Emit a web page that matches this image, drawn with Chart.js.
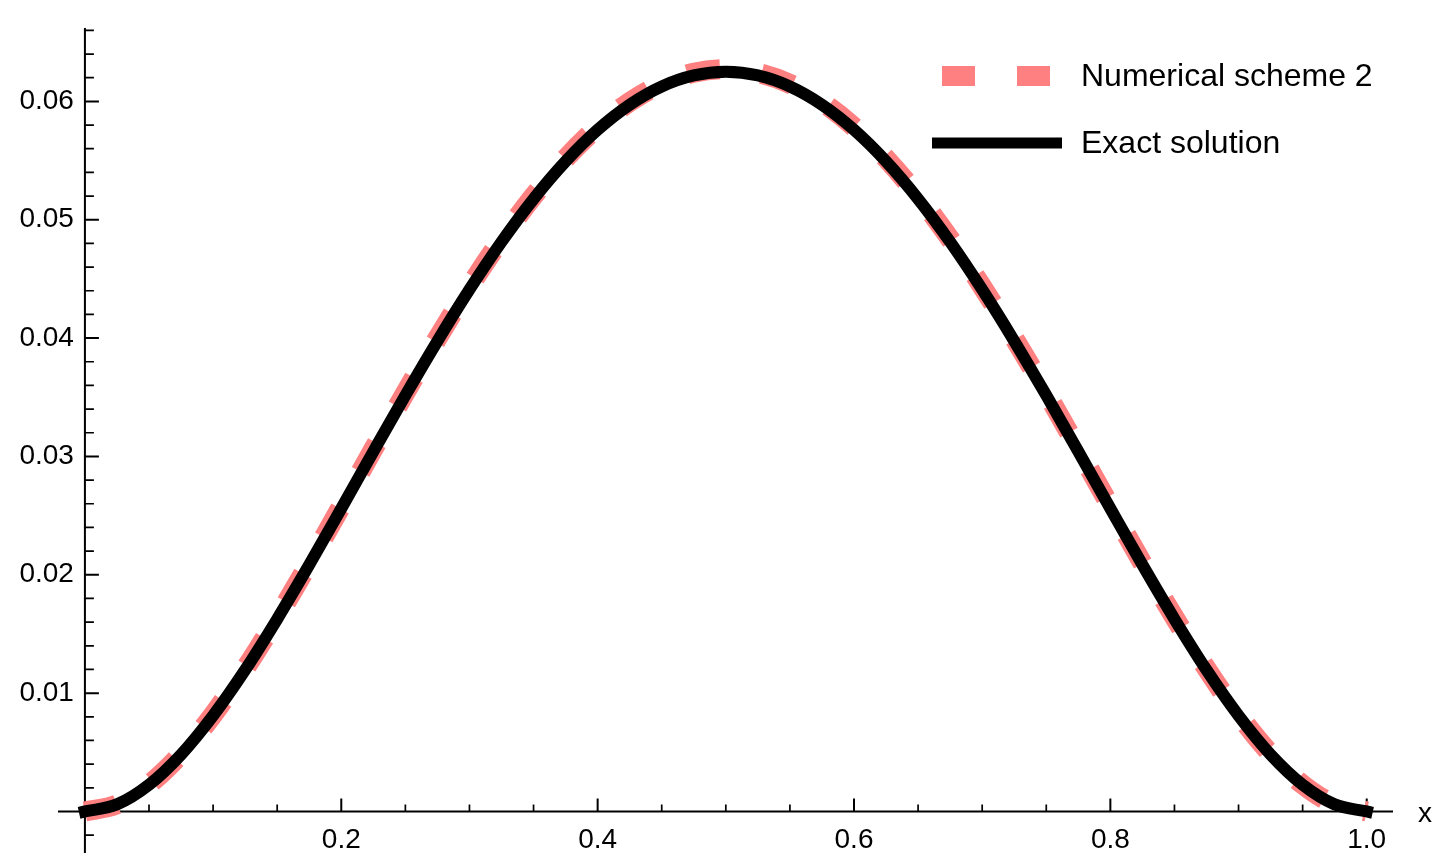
<!DOCTYPE html>
<html>
<head>
<meta charset="utf-8">
<script src="https://cdn.jsdelivr.net/npm/chart.js@4.4.1/dist/chart.umd.min.js"></script>
<style>
html,body{margin:0;padding:0;background:#fff;overflow:hidden}
#wrap{width:1446px;height:866px;position:relative}
</style>
</head>
<body>
<div id="wrap"><canvas id="c"></canvas></div>
<script>
// ---- data ----
const xValues = [0, 0.025, 0.05, 0.075, 0.1, 0.125, 0.15, 0.175, 0.2, 0.225, 0.25, 0.275, 0.3, 0.325, 0.35, 0.375, 0.4, 0.425, 0.45, 0.475, 0.5,
                 0.525, 0.55, 0.575, 0.6, 0.625, 0.65, 0.675, 0.7, 0.725, 0.75, 0.775, 0.8, 0.825, 0.85, 0.875, 0.9, 0.925, 0.95, 0.975, 1];
const exactValues = [0, 0.0006, 0.00226, 0.00481, 0.0081, 0.01196, 0.01626, 0.02084, 0.0256, 0.03041, 0.03516, 0.03975, 0.0441, 0.04813, 0.05176, 0.05493, 0.0576, 0.05972, 0.06126, 0.06219, 0.0625,
                     0.06219, 0.06126, 0.05972, 0.0576, 0.05493, 0.05176, 0.04813, 0.0441, 0.03975, 0.03516, 0.03041, 0.0256, 0.02084, 0.01626, 0.01196, 0.0081, 0.00481, 0.00226, 0.0006, 0];
const numericalValues = [0, 0.0006, 0.00228, 0.00486, 0.00818, 0.01207, 0.01639, 0.021, 0.02578, 0.03061, 0.03538, 0.03998, 0.04434, 0.04837, 0.052, 0.05517, 0.05783, 0.05995, 0.06148, 0.06241, 0.06272,
                         0.06241, 0.06148, 0.05995, 0.05783, 0.05517, 0.052, 0.04837, 0.04434, 0.03998, 0.03538, 0.03061, 0.02578, 0.021, 0.01639, 0.01207, 0.00818, 0.00486, 0.00228, 0.0006, 0];
const seriesNames = ['Numerical scheme 2', 'Exact solution'];
const xTickValues = [0.2, 0.4, 0.6, 0.8, 1.0];
const xTickLabels = ['0.2', '0.4', '0.6', '0.8', '1.0'];
const xMinorTicks = [0.05, 0.1, 0.15, 0.25, 0.3, 0.35, 0.45, 0.5, 0.55, 0.65, 0.7, 0.75, 0.85, 0.9, 0.95];
const yTickValues = [0.01, 0.02, 0.03, 0.04, 0.05, 0.06];
const yTickLabels = ['0.01', '0.02', '0.03', '0.04', '0.05', '0.06'];
const yMinorTicks = [-0.002, 0.002, 0.004, 0.006, 0.008, 0.012, 0.014, 0.016, 0.018, 0.022, 0.024, 0.026, 0.028,
                     0.032, 0.034, 0.036, 0.038, 0.042, 0.044, 0.046, 0.048, 0.052, 0.054, 0.056, 0.058, 0.062, 0.064, 0.066];
const xAxisName = 'x';
const xAxisExtent = [-0.021, 1.0205];
const yAxisExtent = [-0.0035, 0.0662];

// ---- styles ----
const FONT = '"Liberation Sans", Arial, sans-serif';
const PINK = 'rgb(255,128,128)';

const canvas = document.getElementById('c');
canvas.width = 1446; canvas.height = 866;
canvas.style.width = '1446px'; canvas.style.height = '866px';

const axesPlugin = {
  id: 'mmaAxes',
  beforeDatasetsDraw(chart) {
    const ctx = chart.ctx, xs = chart.scales.x, ys = chart.scales.y;
    const x0 = xs.getPixelForValue(0), y0 = ys.getPixelForValue(0);
    ctx.save();
    ctx.strokeStyle = '#000';
    ctx.lineCap = 'butt';
    ctx.lineWidth = 2;
    ctx.beginPath();
    ctx.moveTo(xs.getPixelForValue(xAxisExtent[0]), y0); ctx.lineTo(xs.getPixelForValue(xAxisExtent[1]), y0);
    ctx.moveTo(x0, ys.getPixelForValue(yAxisExtent[1])); ctx.lineTo(x0, ys.getPixelForValue(yAxisExtent[0]));
    ctx.stroke();
    ctx.beginPath();
    xTickValues.forEach(v => { const p = xs.getPixelForValue(v); ctx.moveTo(p, y0); ctx.lineTo(p, y0 - 13); });
    yTickValues.forEach(v => { const p = ys.getPixelForValue(v); ctx.moveTo(x0, p); ctx.lineTo(x0 + 14, p); });
    ctx.stroke();
    ctx.lineWidth = 1.7;
    ctx.beginPath();
    xMinorTicks.forEach(v => { const p = xs.getPixelForValue(v); ctx.moveTo(p, y0); ctx.lineTo(p, y0 - 7); });
    yMinorTicks.forEach(v => { const p = ys.getPixelForValue(v); ctx.moveTo(x0, p); ctx.lineTo(x0 + 9, p); });
    ctx.stroke();
    ctx.restore();
  },
  afterDraw(chart) {
    const ctx = chart.ctx, xs = chart.scales.x, ys = chart.scales.y;
    const y0 = ys.getPixelForValue(0);
    ctx.save();
    ctx.fillStyle = '#000';
    ctx.font = '28px ' + FONT;
    ctx.textAlign = 'center';
    ctx.textBaseline = 'middle';
    ctx.fillText(xAxisName, xs.getPixelForValue(xAxisExtent[1]) + 32, y0 + 2.5);
    // legend
    const ds = chart.data.datasets;
    ctx.lineCap = 'butt';
    ctx.strokeStyle = ds[0].borderColor;
    ctx.lineWidth = ds[0].borderWidth;
    ctx.setLineDash(ds[0].borderDash);
    ctx.beginPath(); ctx.moveTo(942, 76); ctx.lineTo(1050, 76); ctx.stroke();
    ctx.setLineDash([]);
    ctx.strokeStyle = ds[1].borderColor;
    ctx.lineWidth = 11;
    ctx.beginPath(); ctx.moveTo(932, 143); ctx.lineTo(1062, 143); ctx.stroke();
    ctx.font = '32px ' + FONT;
    ctx.textAlign = 'left';
    ctx.fillText(ds[0].label, 1081, 77);
    ctx.fillText(ds[1].label, 1081, 144);
    ctx.restore();
  }
};

new Chart(canvas, {
  type: 'line',
  data: {
    datasets: [
      {
        label: seriesNames[0],
        data: xValues.map((x, i) => ({ x: x, y: numericalValues[i] })),
        borderColor: PINK, borderWidth: 20, borderDash: [33, 42], borderCapStyle: 'butt',
        pointRadius: 0, cubicInterpolationMode: 'monotone', fill: false, clip: false, order: 1
      },
      {
        label: seriesNames[1],
        data: xValues.map((x, i) => ({ x: x, y: exactValues[i] })),
        borderColor: '#000', borderWidth: 12, borderCapStyle: 'square', borderJoinStyle: 'round',
        pointRadius: 0, cubicInterpolationMode: 'monotone', fill: false, clip: false, order: 0
      }
    ]
  },
  options: {
    responsive: false,
    animation: false,
    devicePixelRatio: 1,
    layout: { padding: { left: 58, right: 53, top: 28, bottom: 17 } },
    plugins: { legend: { display: false }, tooltip: { enabled: false } },
    scales: {
      x: {
        type: 'linear', min: xAxisExtent[0], max: xAxisExtent[1], position: { y: 0 },
        grid: { display: false, drawTicks: false }, border: { display: false },
        afterBuildTicks: s => { s.ticks = xTickValues.map(v => ({ value: v })); },
        ticks: { autoSkip: false, maxRotation: 0, padding: 12, color: '#000',
                 font: { family: FONT, size: 28 },
                 callback: (v, i) => xTickLabels[i] }
      },
      y: {
        type: 'linear', min: -0.00317, max: yAxisExtent[1], position: { x: -0.0086 },
        grid: { display: false, drawTicks: false }, border: { display: false },
        afterBuildTicks: s => { s.ticks = yTickValues.map(v => ({ value: v })); },
        ticks: { autoSkip: false, padding: 0, color: '#000',
                 font: { family: FONT, size: 28 },
                 callback: (v, i) => yTickLabels[i] }
      }
    }
  },
  plugins: [axesPlugin]
});
</script>
</body>
</html>
